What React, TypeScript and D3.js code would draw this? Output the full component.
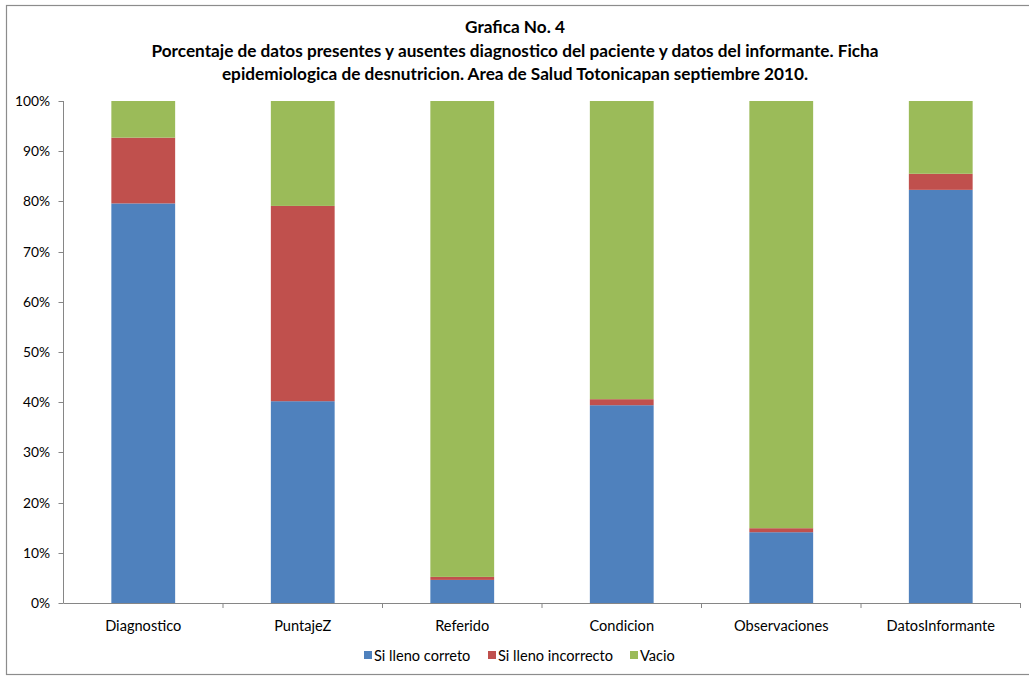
import React from "react";
import * as d3 from "d3";

// Categories and stacked percentage shares for each completion status
const categories = ["Diagnostico", "PuntajeZ", "Referido", "Condicion", "Observaciones", "DatosInformante"];
const llenoCorrecto = [79.6, 40.2, 4.6, 39.4, 14.1, 82.3];
const llenoIncorrecto = [13.1, 38.9, 0.6, 1.2, 0.8, 3.2];
const vacio = [7.3, 20.9, 94.8, 59.4, 85.1, 14.5];
const seriesNames = ["Si lleno correto", "Si lleno incorrecto", "Vacio"];
const seriesColors = ["#4F81BD", "#C0504D", "#9BBB59"];
const yTicks = [0, 10, 20, 30, 40, 50, 60, 70, 80, 90, 100];
const titleLines = [
  "Grafica No. 4",
  "Porcentaje de datos presentes y ausentes diagnostico del paciente y datos del informante. Ficha",
  "epidemiologica de desnutricion. Area de Salud Totonicapan septiembre 2010.",
];

const W = 1029;
const H = 677;
const margin = { left: 63.5, right: 1020.5, top: 101, bottom: 603 };
const font = "Lato, 'Open Sans', sans-serif";

export default function App() {
  const rows = categories.map((c, i) => ({
    cat: c,
    s0: llenoCorrecto[i],
    s1: llenoIncorrecto[i],
    s2: vacio[i],
  }));
  const stack = d3.stack<any>().keys(["s0", "s1", "s2"]).offset(d3.stackOffsetExpand);
  const layers = stack(rows);

  const x = d3.scaleBand<string>().domain(categories).range([margin.left, margin.right]).paddingInner(0.6).paddingOuter(0.3);
  const xOuter = d3.scaleBand<string>().domain(categories).range([margin.left, margin.right]);
  const y = d3.scaleLinear().domain([0, 1]).range([margin.bottom, margin.top]);

  const legendX = [364, 488, 630];

  return (
    <svg width={W} height={H} style={{ position: "absolute", left: 0, top: 0, background: "#fff" }} fontFamily={font}>
      <rect x={6.5} y={5.5} width={1040} height={669} fill="#fff" stroke="#8c8c8c" strokeWidth={1.2} />
      {titleLines.map((t, i) => (
        <text key={i} x={515} y={33 + i * 23.5} textAnchor="middle" fontSize={17.2} fontWeight="bold" fill="#000">
          {t}
        </text>
      ))}
      {layers.map((layer, li) => (
        <g key={li} fill={seriesColors[li]}>
          {layer.map((d, i) => (
            <rect
              key={i}
              x={x(categories[i])}
              width={x.bandwidth()}
              y={y(d[1])}
              height={y(d[0]) - y(d[1])}
            />
          ))}
        </g>
      ))}
      {/* y axis */}
      <line x1={margin.left} x2={margin.left} y1={margin.top} y2={margin.bottom} stroke="#868686" />
      {yTicks.map((t) => (
        <g key={t}>
          <line x1={margin.left - 5} x2={margin.left} y1={Math.round(y(t / 100)) + 0.5} y2={Math.round(y(t / 100)) + 0.5} stroke="#868686" />
          <text x={50} y={y(t / 100) + 5} textAnchor="end" fontSize={13.8} fill="#000">
            {t}%
          </text>
        </g>
      ))}
      {/* x axis */}
      <line x1={margin.left} x2={margin.right} y1={margin.bottom + 0.5} y2={margin.bottom + 0.5} stroke="#868686" />
      {categories.map((c, i) => (
        <g key={c}>
          <line
            x1={(xOuter(c) as number) + xOuter.bandwidth()}
            x2={(xOuter(c) as number) + xOuter.bandwidth()}
            y1={margin.bottom}
            y2={margin.bottom + 5}
            stroke="#868686"
          />
          <text x={(xOuter(c) as number) + xOuter.bandwidth() / 2} y={631} textAnchor="middle" fontSize={14.6} fill="#000">
            {c}
          </text>
        </g>
      ))}
      {/* legend */}
      {seriesNames.map((n, i) => (
        <g key={n}>
          <rect x={legendX[i]} y={651} width={8} height={8} fill={seriesColors[i]} />
          <text x={legendX[i] + 10} y={661} fontSize={14.6} fill="#000">
            {n}
          </text>
        </g>
      ))}
    </svg>
  );
}
